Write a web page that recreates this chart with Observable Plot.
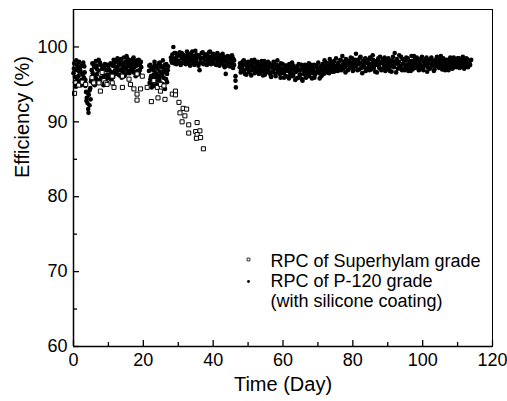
<!DOCTYPE html>
<html><head><meta charset="utf-8">
<script src="https://cdn.jsdelivr.net/npm/d3@7"></script>
<script src="https://cdn.jsdelivr.net/npm/@observablehq/plot@0.6"></script>
<style>
html,body{margin:0;padding:0;background:#fff;}
#chart{width:507px;height:401px;}
svg{font-family:"Liberation Sans",Arial,sans-serif;}
</style></head>
<body><div id="chart"></div>
<script>
// Superhylam grade (hollow squares)
const superDay = [0.3,0.6,1.5,2.5,3.5,5.3,5.8,7.3,7.7,7.7,8.2,8.7,9.2,9.6,11.1,11.1,11.6,14.0,14.0,15.9,16.3,17.3,18.2,18.2,18.2,19.2,19.7,21.1,22.3,23.0,24.0,24.2,24.9,24.9,25.9,26.2,28.3,29.2,29.2,30.2,30.5,31.4,32.4,31.9,31.1,33.0,35.4,33.0,35.0,36.2,35.4,36.4,35.2,37.2];
const superEff = [93.8,95.2,94.9,95.3,95.0,95.9,95.2,95.2,94.1,96.4,96.6,95.5,95.2,95.0,96.1,95.2,94.6,94.6,96.1,95.7,95.0,94.4,96.4,93.7,92.9,94.4,96.1,94.6,92.7,95.5,94.6,93.2,94.1,95.0,94.8,93.0,93.7,94.1,93.6,92.6,91.2,91.8,91.7,90.8,90.0,89.6,89.9,88.5,88.7,88.8,88.3,87.9,87.8,86.4];

// P-120 grade with silicone coating (filled dots), first reading set
const p120Day = [
0.0,0.2,0.4,0.6,0.8,1.0,1.2,1.4,1.6,1.8,2.0,2.2,2.4,2.6,2.8,3.0,3.2,3.4,3.6,3.8,4.0,4.2,4.4,4.6,4.8,5.0,5.2,5.4,5.6,5.8,6.0,6.2,6.4,6.6,6.8,7.0,7.2,7.4,7.6,7.8,8.0,8.2,8.4,8.6,8.8,9.0,9.2,9.4,9.6,9.8,10.0,10.4,10.8,11.2,11.4,11.6,11.8,12.0,12.2,12.4,12.6,12.8,13.0,13.2,13.4,13.6,13.8,14.0,14.2,14.4,14.6,14.8,15.0,15.2,15.4,15.6,15.8,16.0,16.2,16.4,16.6,16.8,17.0,17.2,17.4,17.6,17.8,18.0,18.2,18.4,18.6,18.8,19.0,19.3,
21.6,21.8,22.0,22.2,22.4,22.6,22.8,23.0,23.2,23.4,23.6,23.8,24.0,24.2,24.4,24.6,24.8,25.0,25.2,25.4,25.6,25.8,26.0,26.2,26.4,26.6,26.8,27.0,
27.9,28.2,28.6,28.9,29.2,29.5,29.8,30.1,30.4,30.7,31.0,31.3,31.6,31.9,32.2,32.5,32.8,33.1,33.4,33.7,34.0,34.3,34.6,34.9,35.2,35.5,35.8,36.1,36.4,36.7,37.0,37.3,37.6,37.9,38.2,38.5,38.8,39.1,39.4,39.7,40.0,40.3,40.6,40.9,41.2,41.5,41.8,42.1,42.4,42.7,43.0,43.3,43.6,43.9,44.2,44.5,44.8,45.1,45.4,45.7,46.0,46.4,46.4,46.5,
47.6,47.9,48.2,48.5,48.8,49.1,49.4,49.7,50.0,50.3,50.6,50.9,51.2,51.5,51.8,52.1,52.4,52.7,53.0,53.3,53.6,53.9,54.2,54.5,54.8,55.1,55.4,55.7,56.0,56.3,56.6,56.9,57.2,57.5,57.8,58.1,58.4,58.7,59.0,59.3,59.6,59.9,60.2,60.5,60.8,61.1,61.4,61.7,62.0,62.3,62.6,62.9,63.2,63.5,63.8,64.1,64.4,64.7,65.0,65.3,65.6,65.9,66.2,66.5,66.8,67.1,67.4,67.7,68.0,68.3,68.6,68.9,69.2,69.5,69.8,70.1,70.4,70.7,71.0,71.3,71.6,71.9,72.2,72.5,72.8,73.1,73.4,73.7,74.0,74.3,74.6,74.9,75.2,75.5,75.8,76.1,76.4,76.7,77.0,77.3,77.6,77.9,78.2,78.5,78.8,79.1,79.4,79.7,80.0,80.3,80.6,80.9,81.2,81.5,81.8,82.1,82.4,82.7,83.0,83.3,83.6,83.9,84.2,84.5,84.8,85.1,85.4,85.7,86.0,86.3,86.6,86.9,87.2,87.5,87.8,88.1,88.4,88.7,89.0,89.3,89.6,89.9,90.2,90.5,90.8,91.1,91.4,91.7,92.0,92.3,92.6,92.9,93.2,93.5,93.8,94.1,94.4,94.7,95.0,95.3,95.6,95.9,96.2,96.5,96.8,97.1,97.4,97.7,98.0,98.3,98.6,98.9,99.2,99.5,99.8,100.1,100.4,100.7,101.0,101.3,101.6,101.9,102.2,102.5,102.8,103.1,103.4,103.7,104.0,104.3,104.6,104.9,105.2,105.5,105.8,106.1,106.4,106.7,107.0,107.3,107.6,107.9,108.2,108.5,108.8,109.1,109.4,109.7,110.0,110.3,110.6,110.9,111.2,111.5,111.8,112.1,112.4,112.7,113.0,113.3,113.6,113.9];
const p120Eff = [
96.5,97.8,95.3,96.9,98.2,95.8,97.2,96.1,98.0,95.1,96.8,97.5,95.6,96.3,97.9,95.9,96.6,94.8,94.0,93.2,92.5,91.7,93.6,92.2,94.5,95.4,96.9,97.8,96.2,95.0,97.3,96.0,98.1,95.7,97.0,96.4,98.3,95.5,96.8,97.6,95.9,96.5,97.2,94.9,96.1,97.7,95.6,96.9,95.2,96.3,97.4,95.8,96.6,97.5,96.0,97.9,96.8,98.0,96.4,97.3,98.5,96.9,97.6,96.2,98.2,97.0,95.9,97.8,96.7,98.6,97.2,96.3,97.9,98.8,96.8,97.5,98.3,96.5,97.4,98.0,96.9,97.7,98.4,96.6,97.3,98.1,96.1,97.5,98.2,96.8,97.9,96.4,97.6,98.0,
96.8,95.2,97.6,96.1,94.6,97.2,95.8,96.9,98.0,95.4,96.5,97.4,94.9,96.2,97.8,95.6,96.7,97.5,95.1,96.4,98.2,95.9,97.1,94.4,96.6,97.7,95.3,96.9,
98.6,97.9,100.0,99.2,98.3,97.7,98.9,98.1,99.3,97.6,98.5,99.0,98.2,97.8,98.7,99.4,98.0,98.6,97.5,99.1,98.3,97.9,98.8,99.5,98.1,97.7,98.9,96.9,98.4,99.2,97.8,98.6,99.0,98.2,97.6,98.8,99.3,98.0,98.5,97.9,99.1,98.3,97.7,98.7,99.2,98.1,97.5,98.6,98.9,97.8,98.4,97.3,96.4,98.2,97.9,98.7,97.4,98.3,97.8,98.5,97.6,96.1,95.5,94.6,
97.3,96.6,97.9,97.0,98.2,96.4,97.6,97.1,98.0,96.8,97.4,96.2,97.8,97.0,98.3,96.7,97.5,96.9,97.9,96.5,97.2,98.1,96.8,97.4,96.3,97.7,97.0,98.0,96.6,97.3,96.0,97.6,96.9,97.8,96.4,97.1,98.2,96.7,97.4,95.9,97.0,97.7,96.5,97.2,96.1,97.5,96.8,95.8,97.3,96.5,97.9,96.2,97.0,95.6,96.7,97.4,95.9,96.9,96.3,97.6,95.5,96.8,97.2,96.0,97.5,96.4,97.8,96.6,97.1,95.8,96.9,97.6,96.3,97.3,96.7,97.9,96.5,97.2,96.1,97.7,96.9,98.2,97.0,96.6,97.8,97.1,98.4,96.8,97.5,98.0,96.7,97.3,98.5,97.0,97.7,96.9,98.2,97.4,98.8,97.1,97.9,96.6,98.3,97.6,98.0,97.2,98.6,97.5,96.8,98.1,97.4,99.1,97.8,98.3,97.0,98.6,97.6,96.5,98.0,97.3,98.5,97.1,98.2,97.7,96.9,98.4,97.5,98.9,97.2,98.1,97.8,96.6,98.3,97.4,98.7,97.0,97.9,98.4,97.3,96.8,98.1,97.6,98.5,97.2,97.9,96.7,98.2,97.5,99.2,97.8,98.4,97.1,98.0,97.4,98.7,96.9,97.7,98.3,97.2,98.6,97.6,96.8,98.1,97.4,98.8,97.0,97.9,98.3,97.3,98.6,97.7,96.9,98.2,97.5,98.7,97.1,98.0,97.6,98.4,96.7,97.8,98.3,97.2,98.6,97.5,98.1,97.0,97.9,98.5,97.4,98.2,97.7,98.8,97.3,98.0,97.6,96.9,98.3,97.5,98.1,97.2,98.6,97.8,97.1,98.4,97.6,98.0,97.3,98.5,97.9,97.2,98.2,97.6,98.7,97.4,98.1,97.8,98.4,97.3,98.0,97.6,98.3];

// P-120 grade, second reading set (interleaved days)
const p120DayB = [
0.1,0.4,0.7,1.0,1.3,1.6,1.9,2.2,2.5,2.8,3.1,3.4,3.7,4.0,4.3,4.6,4.9,5.2,5.5,5.8,6.1,6.4,6.7,7.0,7.3,7.6,7.9,8.2,8.5,8.8,9.1,9.4,9.7,10.0,10.3,10.6,10.9,11.2,11.5,11.8,12.1,12.4,12.7,13.0,13.3,13.6,13.9,14.2,14.5,14.8,15.1,15.4,15.7,16.0,16.3,16.6,16.9,17.2,17.5,17.8,18.1,18.4,18.7,19.0,19.4,
21.7,22.0,22.3,22.6,22.9,23.2,23.5,23.8,24.1,24.4,24.7,25.0,25.3,25.6,25.9,26.2,26.5,26.8,27.1,
28.0,28.3,28.6,28.9,29.2,29.5,29.8,30.1,30.4,30.7,31.0,31.3,31.6,31.9,32.2,32.5,32.8,33.1,33.4,33.7,34.0,34.3,34.6,34.9,35.2,35.5,35.8,36.1,36.4,36.7,37.0,37.3,37.6,37.9,38.2,38.5,38.8,39.1,39.4,39.7,40.0,40.3,40.6,40.9,41.2,41.5,41.8,42.1,42.4,42.7,43.0,43.3,43.6,43.9,44.2,44.5,44.8,45.1,45.4,45.7,46.0,
47.7,48.0,48.3,48.6,48.9,49.2,49.5,49.8,50.1,50.4,
50.7,51.0,51.3,51.6,51.9,52.2,52.5,52.8,53.1,53.4,
53.7,54.0,54.3,54.6,54.9,55.2,55.5,55.8,56.1,56.4,
56.7,57.0,57.3,57.6,57.9,58.2,58.5,58.8,59.1,59.4,
59.7,60.0,60.3,60.6,60.9,61.2,61.5,61.8,62.1,62.4,
62.7,63.0,63.3,63.6,63.9,64.2,64.5,64.8,65.1,65.4,
65.7,66.0,66.3,66.6,66.9,67.2,67.5,67.8,68.1,68.4,
68.7,69.0,69.3,69.6,69.9,70.2,70.5,70.8,71.1,71.4,
71.7,72.0,72.3,72.6,72.9,73.2,73.5,73.8,74.1,74.4,
74.7,75.0,75.3,75.6,75.9,76.2,76.5,76.8,77.1,77.4,
77.7,78.0,78.3,78.6,78.9,79.2,79.5,79.8,80.1,80.4,
80.7,81.0,81.3,81.6,81.9,82.2,82.5,82.8,83.1,83.4,
83.7,84.0,84.3,84.6,84.9,85.2,85.5,85.8,86.1,86.4,
86.7,87.0,87.3,87.6,87.9,88.2,88.5,88.8,89.1,89.4,
89.7,90.0,90.3,90.6,90.9,91.2,91.5,91.8,92.1,92.4,
92.7,93.0,93.3,93.6,93.9,94.2,94.5,94.8,95.1,95.4,
95.7,96.0,96.3,96.6,96.9,97.2,97.5,97.8,98.1,98.4,
98.7,99.0,99.3,99.6,99.9,100.2,100.5,100.8,101.1,101.4,
101.7,102.0,102.3,102.6,102.9,103.2,103.5,103.8,104.1,104.4,
104.7,105.0,105.3,105.6,105.9,106.2,106.5,106.8,107.1,107.4,
107.7,108.0,108.3,108.6,108.9,109.2,109.5,109.8,110.1,110.4,
110.7,111.0,111.3,111.6,111.9,112.2,112.5,112.8,113.1,113.4,
113.7];
const p120EffB = [
97.1,96.0,94.7,97.6,95.5,96.7,97.3,94.9,96.4,95.2,97.4,95.6,92.8,93.9,91.2,94.2,93.0,95.7,96.5,97.6,94.9,96.3,97.5,95.3,96.6,97.9,95.8,97.1,96.0,97.4,95.4,96.2,97.6,95.9,96.9,97.8,95.6,96.5,98.3,97.4,96.6,98.1,97.0,96.3,97.7,98.4,96.8,97.5,96.1,98.0,97.3,98.5,96.6,97.8,96.9,98.2,97.1,98.6,96.7,97.8,96.3,97.6,98.3,96.9,97.3,
97.5,95.7,97.0,95.0,96.3,97.5,94.8,96.0,97.1,95.5,97.9,96.1,97.3,95.0,96.8,97.6,95.7,96.4,97.4,
98.2,99.0,98.5,97.8,99.2,98.6,98.0,99.0,97.9,98.8,99.2,97.9,98.9,98.5,97.7,98.3,99.1,97.8,98.9,98.2,99.4,98.6,97.6,98.4,99.0,98.6,97.5,98.7,97.9,98.5,99.3,97.7,98.3,99.0,98.6,97.8,98.4,99.4,97.7,98.8,98.0,99.0,98.5,97.6,98.3,99.0,98.6,97.9,98.2,99.1,97.6,98.7,98.1,97.5,98.8,97.7,98.6,97.5,98.9,97.2,98.2,
97.8,96.9,97.4,98.1,96.7,97.6,96.3,97.9,97.2,96.6,
97.7,98.2,96.9,97.3,96.5,97.9,97.1,98.0,96.4,97.5,
96.8,97.7,96.2,98.1,97.0,96.6,97.5,96.9,97.8,96.3,
97.4,96.7,98.0,97.2,96.1,97.6,96.8,97.3,96.4,97.8,
96.6,97.1,95.9,97.5,96.8,97.3,96.0,97.7,96.4,97.0,
96.1,97.5,96.6,97.2,95.8,96.9,97.7,96.3,97.0,95.7,
97.1,96.4,97.6,95.9,96.8,97.3,96.1,97.0,97.6,96.5,
97.2,95.9,96.6,97.5,96.8,97.1,95.8,97.4,96.7,97.6,
96.4,97.3,97.9,96.8,97.5,96.5,97.9,97.2,96.7,97.7,
98.1,97.0,97.5,96.8,97.9,97.3,98.3,96.9,97.6,98.0,
97.3,98.4,97.7,96.9,98.1,97.4,97.9,98.5,97.0,97.7,
98.3,97.5,96.9,98.0,97.7,98.7,97.2,98.1,97.6,98.4,
96.8,97.9,98.2,97.4,98.6,97.0,97.8,98.3,97.5,96.7,
98.0,97.6,98.5,97.2,97.9,96.9,98.2,97.7,98.6,97.4,
97.0,98.3,97.8,96.8,98.1,97.5,98.7,97.3,97.9,96.6,
98.2,97.7,98.9,97.4,97.1,98.4,97.8,96.9,98.2,97.6,
98.5,97.3,97.9,96.8,98.1,97.5,98.8,97.2,97.9,97.4,
98.3,97.0,97.7,98.5,97.4,96.9,98.1,97.7,98.6,97.3,
97.9,97.1,98.4,97.6,98.0,96.8,98.2,97.5,98.7,97.8,
97.2,98.3,97.6,97.0,98.5,97.8,97.3,98.1,97.7,96.9,
98.4,97.5,98.0,97.2,98.6,97.7,97.4,98.2,97.8,98.5,
97.3,98.0,97.6,98.3,97.1,97.9,98.5,97.4,98.1,97.7,
98.2];

const xTicks = [0,20,40,60,80,100,120];
const xMinor = [10,30,50,70,90,110];
const yTicks = [60,70,80,90,100];
const yMinor = [65,75,85,95];
const legendLines = ["RPC of Superhylam grade","RPC of P-120 grade","(with silicone coating)"];

const superData = superDay.map((d,i)=>({day:d, eff:superEff[i]}));
const p120Data = p120Day.map((d,i)=>({day:d, eff:p120Eff[i]}))
  .concat(p120DayB.map((d,i)=>({day:d, eff:p120EffB[i]})))
  .filter(d => d.eff !== undefined && d.day !== undefined);

const W = 507, H = 401, ML = 73, MR = 15, MT = 9, MB = 55;
const innerW = W - ML - MR, innerH = H - MT - MB;
const major = 6, minor = 4;

const font = '"Liberation Sans", Arial, sans-serif';
const chart = Plot.plot({
  width: W, height: H,
  marginLeft: ML, marginRight: MR, marginTop: MT, marginBottom: MB,
  style: {fontFamily: font, fontSize: "18px", color: "#000", background: "#fff"},
  x: {domain: [0,120]},
  y: {domain: [60,105]},
  marks: [
    Plot.dot(p120Data, {x:"day", y:"eff", r:2.3, fill:"#000", stroke:"none"}),
    Plot.dot(superData, {x:"day", y:"eff", symbol:"square", r:2.3, fill:"#fff", stroke:"#000", strokeWidth:1}),
    Plot.frame({stroke:"#000", strokeWidth:1}),
    Plot.ruleX([0], {stroke:"#000", strokeWidth:1.5}),
    Plot.ruleY([60], {stroke:"#000", strokeWidth:1.5}),
    // inward ticks
    Plot.ruleX(xTicks, {x: d=>d, insetTop: innerH - major, stroke: "#000", strokeWidth: 1.3}),
    Plot.ruleX(xMinor, {x: d=>d, insetTop: innerH - minor, stroke: "#000", strokeWidth: 1.3}),
    Plot.ruleY(yTicks, {y: d=>d, insetRight: innerW - major, stroke: "#000", strokeWidth: 1.3}),
    Plot.ruleY(yMinor, {y: d=>d, insetRight: innerW - minor, stroke: "#000", strokeWidth: 1.3}),
    Plot.axisX({ticks: xTicks, tickSize: 0, tickPadding: 7, label: null, fontSize: 18}),
    Plot.axisY({ticks: yTicks, tickSize: 0, tickPadding: 6, label: null, fontSize: 18}),
    Plot.text(["Time (Day)"], {frameAnchor: "bottom", dy: 44, fontSize: 20, lineAnchor: "bottom", text: d=>d}),
    Plot.text(["Efficiency (%)"], {frameAnchor: "left", dx: -51, rotate: -90, fontSize: 20, text: d=>d}),
    Plot.text([legendLines.join("\n")], {frameAnchor: "top-left", dx: 197, dy: 243, textAnchor: "start", lineAnchor: "top", lineHeight: 1.111, fontSize: 18, text: d=>d}),
    Plot.dot([legendLines[0]], {frameAnchor: "top-left", dx: 175, dy: 250, symbol: "square", r: 1.6, fill: "#fff", stroke: "#333", strokeWidth: 1}),
    Plot.dot([legendLines[1]], {frameAnchor: "top-left", dx: 175, dy: 272, r: 1.4, fill: "#000"})
  ]
});
document.getElementById("chart").appendChild(chart);
</script></body></html>
